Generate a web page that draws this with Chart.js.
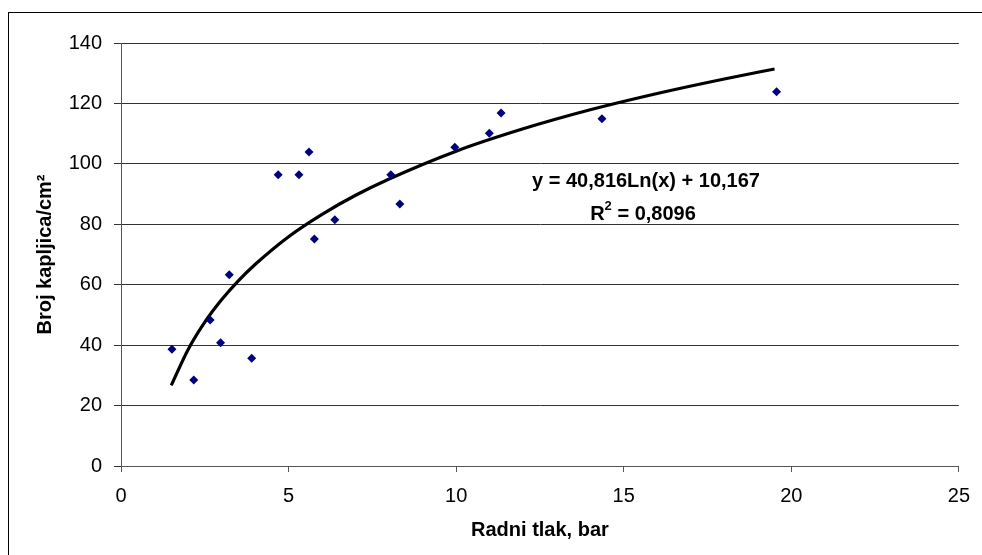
<!doctype html>
<html lang="hr">
  <head>
    <meta charset="utf-8">
    <title>Broj kapljica</title>
    <style>
      * { margin: 0; padding: 0; }
      body { background: #fff; }
      .chartBox { width: 982px; height: 555px; position: relative; }
    </style>
  </head>
  <body>
    <div class="chartBox">
      <canvas id="myChart"></canvas>
    </div>
    <script src="https://cdn.jsdelivr.net/npm/chart.js/dist/chart.umd.min.js"></script>
    <script>
    // measured points (Radni tlak, bar -> Broj kapljica/cm2)
    const tlak = [1.52, 2.17, 2.66, 2.97, 3.23, 3.90, 4.69, 5.31, 5.61, 5.77, 6.38, 8.05, 8.32, 9.96, 10.99, 11.34, 14.35, 19.56];
    const kapljice = [38.6, 28.5, 48.3, 40.8, 63.3, 35.7, 96.4, 96.4, 103.9, 75.1, 81.5, 96.4, 86.7, 105.5, 110.1, 116.8, 114.9, 123.9];

    // trend line
    const trendX = [1.5, 2, 2.5, 3, 3.5, 4, 5, 6, 7, 8, 10, 12, 14, 16, 18, 19.5];
    const trendY = [26.7, 38.5, 47.6, 55.0, 61.3, 66.7, 75.9, 83.3, 89.6, 95.0, 104.2, 111.6, 117.9, 123.3, 128.1, 131.4];

    const yTicks = [0, 20, 40, 60, 80, 100, 120, 140];
    const xTicks = [0, 5, 10, 15, 20, 25];

    const eqLine = 'y = 40,816Ln(x) + 10,167';
    const r2Value = ' = 0,8096';

    Chart.defaults.font.family = '"Liberation Sans", Arial, sans-serif';
    Chart.defaults.color = '#000';

    const points = tlak.map((v, i) => ({x: v, y: kapljice[i]}));
    const trend = trendX.map((v, i) => ({x: v, y: trendY[i]}));

    // white background + outer frame
    const frame = {
      id: 'frame',
      beforeDraw(chart) {
        const {ctx} = chart;
        ctx.save();
        ctx.fillStyle = '#fff';
        ctx.fillRect(0, 0, chart.width, chart.height);
        ctx.strokeStyle = '#000';
        ctx.lineWidth = 1;
        ctx.strokeRect(8.5, 12.5, chart.width + 20, chart.height + 20);
        ctx.restore();
      }
    };

    // equation and R2 text
    const equation = {
      id: 'equation',
      afterDatasetsDraw(chart) {
        const {ctx, chartArea: {left, top}} = chart;
        const big = 'bold 20px "Liberation Sans", Arial, sans-serif';
        const small = 'bold 13px "Liberation Sans", Arial, sans-serif';
        ctx.save();
        ctx.fillStyle = '#000';
        ctx.font = big;
        ctx.textAlign = 'center';
        ctx.textBaseline = 'middle';
        ctx.fillText(eqLine, left + 525, top + 138);

        // R^2 with a raised small 2
        const wR = ctx.measureText('R').width;
        const wRest = ctx.measureText(r2Value).width;
        ctx.font = small;
        const w2 = ctx.measureText('2').width;
        let x = left + 522 - (wR + w2 + wRest) / 2;
        const y = top + 171;
        ctx.textAlign = 'left';
        ctx.font = big;
        ctx.fillText('R', x, y);
        x += wR;
        ctx.font = small;
        ctx.fillText('2', x, y - 8);
        x += w2;
        ctx.font = big;
        ctx.fillText(r2Value, x, y);
        ctx.restore();
      }
    };

    const config = {
      type: 'scatter',
      data: {
        datasets: [{
          label: 'Broj kapljica',
          data: points,
          pointStyle: 'rectRot',
          pointRadius: 4.5,
          pointHoverRadius: 4.5,
          backgroundColor: '#000080',
          borderColor: '#000080',
          borderWidth: 0,
          order: 1
        }, {
          label: 'Trend',
          type: 'line',
          data: trend,
          borderColor: '#000',
          borderWidth: 3.2,
          pointRadius: 0,
          fill: false,
          cubicInterpolationMode: 'monotone',
          order: 2
        }]
      },
      options: {
        responsive: false,
        animation: false,
        devicePixelRatio: 1,
        layout: {padding: {left: 33, top: 43, right: 23, bottom: 13}},
        plugins: {legend: {display: false}, tooltip: {enabled: false}},
        scales: {
          x: {
            type: 'linear',
            min: 0,
            max: 25,
            afterBuildTicks(scale) { scale.ticks = xTicks.map(v => ({value: v})); },
            afterFit(scale) { scale.height = 76; },
            grid: {drawOnChartArea: false, drawTicks: true, tickLength: 6, color: '#555'},
            border: {color: '#555', width: 1},
            ticks: {font: {size: 20}, padding: 12, maxRotation: 0},
            title: {display: true, text: 'Radni tlak, bar', font: {size: 20, weight: 'bold'}, padding: 0}
          },
          y: {
            min: 0,
            max: 140,
            afterBuildTicks(scale) { scale.ticks = yTicks.map(v => ({value: v})); },
            afterFit(scale) { scale.width = 88; },
            grid: {color: '#333', tickLength: 7},
            border: {color: '#555', width: 1},
            ticks: {font: {size: 20}, padding: 12},
            title: {display: true, text: 'Broj kapljica/cm²', font: {size: 20, weight: 'bold'}, padding: 0}
          }
        }
      },
      plugins: [frame, equation]
    };

    const canvas = document.getElementById('myChart');
    canvas.width = 982;
    canvas.height = 555;
    const myChart = new Chart(canvas, config);
    </script>
  </body>
</html>
